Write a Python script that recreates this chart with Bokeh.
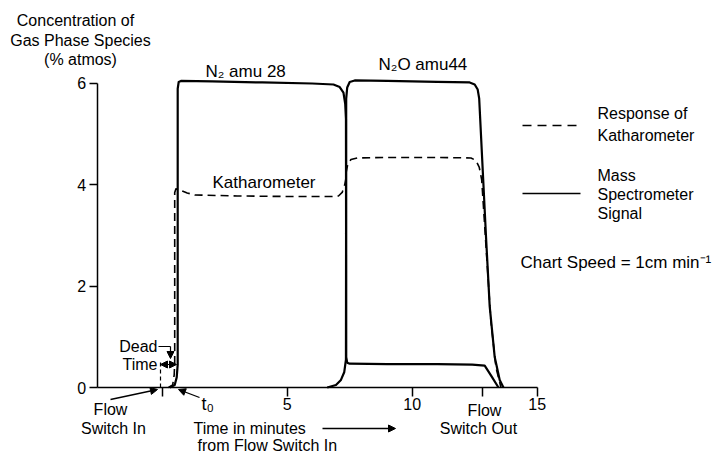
from bokeh.plotting import figure
from bokeh.models import Range1d, FixedTicker, Label, Arrow, NormalHead
from bokeh.embed import file_html
from bokeh.resources import INLINE

# ---- data (time in minutes, concentration in % atmos) ----
n2_t = [0.30, 0.50, 0.58, 0.62, 0.62, 0.66, 0.75, 2.0, 4.0, 6.0, 6.85, 7.10, 7.25,
        7.32, 7.35, 7.36, 7.40, 7.50, 9.0, 11.0, 12.4, 12.9, 13.2, 13.45]
n2_v = [0.00, 0.05, 0.20, 0.45, 5.90, 6.03, 6.05, 6.04, 6.02, 6.00, 5.98, 5.93, 5.82,
        5.60, 5.30, 0.60, 0.49, 0.47, 0.46, 0.46, 0.45, 0.43, 0.20, 0.00]

n2o_t = [6.60, 6.95, 7.15, 7.28, 7.35, 7.36, 7.40, 7.50, 7.70, 9.0, 11.0, 12.30, 12.50,
         12.62, 12.68, 12.80, 12.95, 13.10, 13.30, 13.50, 13.65]
n2o_v = [0.00, 0.05, 0.15, 0.30, 0.55, 5.70, 5.92, 6.03, 6.06, 6.05, 6.03, 6.02, 5.98,
         5.88, 5.70, 4.50, 3.00, 1.60, 0.60, 0.15, 0.00]

kath_t = [0.25, 0.42, 0.48, 0.50, 0.50, 0.55, 0.70, 1.0, 1.3, 3.0, 5.0, 6.8, 7.05, 7.20,
          7.30, 7.34, 7.36, 7.42, 7.55, 7.80, 9.0, 11.0, 12.35, 12.55, 12.68, 12.78,
          12.95, 13.15, 13.35, 13.55]
kath_v = [0.00, 0.05, 0.25, 0.50, 3.85, 3.92, 3.90, 3.84, 3.80, 3.78, 3.77, 3.77, 3.78,
          3.85, 4.00, 4.10, 4.25, 4.40, 4.50, 4.53, 4.54, 4.54, 4.53, 4.48, 4.35, 4.10,
          2.80, 1.30, 0.40, 0.00]

x_ticks = [0, 5, 10, 12.8, 15]
x_tick_labels = {0: "", 5: "5", 10: "10", 12.8: "", 15: "15"}
y_ticks = [0, 2, 4, 6]

# ---- layout ----
FONT = "Liberation Sans"
FS = "16px"
W, H = 715, 454
XPX, YPX = 25.0, 50.67          # pixels per minute, pixels per % unit
X_ORIGIN_PX, Y_ORIGIN_PX = 161.7, 387.0
X0 = -2.6                        # where the y axis stands

p = figure(width=W, height=H, output_backend="svg", toolbar_location=None,
           x_range=Range1d(-X_ORIGIN_PX / XPX, (W - X_ORIGIN_PX) / XPX),
           y_range=Range1d((Y_ORIGIN_PX - H) / YPX, Y_ORIGIN_PX / YPX),
           min_border=0)
p.outline_line_color = None
p.grid.visible = False
p.background_fill_color = "white"
p.border_fill_color = "white"

for ax in (p.xaxis[0], p.yaxis[0]):
    ax.axis_line_width = 1.5
    ax.axis_line_color = "black"
    ax.major_tick_line_width = 1.5
    ax.major_tick_line_color = "black"
    ax.minor_tick_line_color = None
    ax.major_tick_in = 0
    ax.major_label_text_font = FONT
    ax.major_label_text_font_size = FS
    ax.major_label_text_color = "black"

p.xaxis.fixed_location = 0
p.xaxis.ticker = FixedTicker(ticks=x_ticks)
p.xaxis.major_label_overrides = x_tick_labels
p.xaxis.bounds = (X0, 15)
p.xaxis.major_tick_out = 9
p.xaxis.major_label_standoff = 1
p.yaxis.fixed_location = X0
p.yaxis.ticker = FixedTicker(ticks=y_ticks)
p.yaxis.bounds = (0, 6)
p.yaxis.major_tick_out = 8
p.yaxis.major_label_standoff = 3

# ---- curves ----
p.line(n2_t, n2_v, line_color="black", line_width=2.2, line_join="round")
p.line(n2o_t, n2o_v, line_color="black", line_width=2.2, line_join="round")
p.line(kath_t, kath_v, line_color="black", line_width=1.6, line_dash="8 5",
       line_join="round")


# helpers: picture pixel position -> data coordinates (annotation placement only)
def dx(x):
    return (x - X_ORIGIN_PX) / XPX


def dy(y):
    return (Y_ORIGIN_PX - y) / YPX


def lab(x, y, text, align="left", size=FS):
    p.add_layout(Label(x=dx(x), y=dy(y), text=text, text_align=align,
                       text_baseline="middle", text_font=FONT,
                       text_font_size=size, text_color="black"))


def head():
    return NormalHead(size=7, fill_color="black", line_color="black", line_width=1)


def arrow(x1, y1, x2, y2, end=True, start=False, dash="solid", width=1.3):
    p.add_layout(Arrow(x_start=dx(x1), y_start=dy(y1), x_end=dx(x2), y_end=dy(y2),
                       end=head() if end else None, start=head() if start else None,
                       line_color="black", line_width=width, line_dash=dash))


# axis title
lab(75, 20, "Concentration of", "center")
lab(80, 40, "Gas Phase Species", "center")
lab(80, 59, "(% atmos)", "center")

# curve labels
lab(205, 71, "N₂ amu 28", size="17px")
lab(378, 64, "N₂O amu44", size="17px")
lab(212, 182, "Katharometer", size="17px")

# legend
arrow(522, 125, 580, 125, end=False, dash="9 6", width=1.6)
lab(597, 113, "Response of")
lab(597, 135, "Katharometer")
arrow(522, 193, 580, 193, end=False, width=1.3)
lab(597, 175, "Mass")
lab(597, 194, "Spectrometer")
lab(597, 213, "Signal")
lab(520, 262, "Chart Speed = 1cm min⁻¹", size="17px")

# bottom annotations
lab(110, 409, "Flow", "center")
lab(113, 428, "Switch In", "center")
arrow(110, 399, 157, 389)
lab(201, 403, "t₀", size="18px")
arrow(199, 397, 178, 389)
lab(157, 346, "Dead", "right")
arrow(158, 346, 170, 346, end=False, width=1.2)
arrow(170, 346, 170, 358, width=1.2)
lab(157, 364, "Time", "right")
arrow(160, 364, 176, 364, start=True, width=1.2)
arrow(160, 387, 160, 362, end=False, dash="4 3", width=1.2)

lab(193, 428, "Time in minutes")
arrow(322, 428, 395, 428)
lab(197, 445, "from Flow Switch In")

lab(484, 410, "Flow", "center")
lab(478, 428, "Switch Out", "center")

open("out.html", "w").write(file_html(p, INLINE))
